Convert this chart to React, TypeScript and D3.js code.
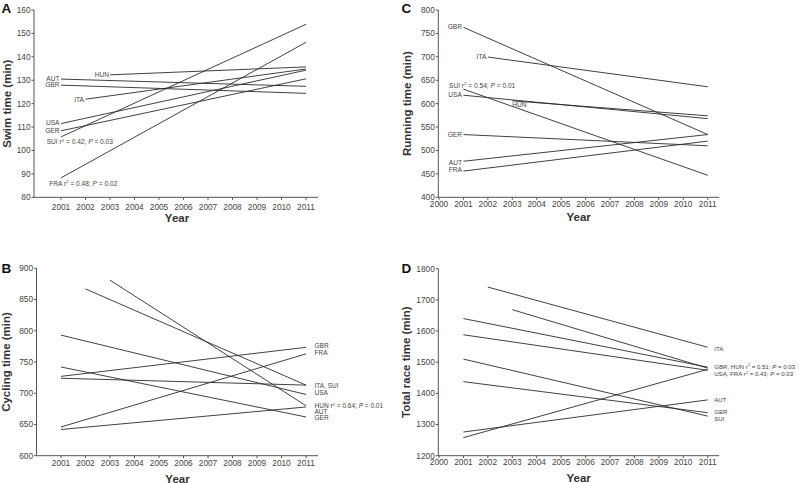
import React from "react";
import * as d3 from "d3";

// ---------- data ----------
const countries = ["AUT", "FRA", "GBR", "GER", "HUN", "ITA", "SUI", "USA"];
const firstYear = [2001, 2001, 2001, 2001, 2003, 2002, 2001, 2001];
const lastYear = 2011;

const swimFirst = [130.5, 88.3, 127.9, 108.4, 132.3, 121.9, 105.8, 111.5];
const swimLast = [127.4, 146.2, 124.4, 130.6, 135.7, 134.8, 153.9, 134.3];

const cycleFirst = [642, 646, 727, 742, 881, 867, 724, 793];
const cycleLast = [678, 763, 773.5, 662, 680, 713, 713, 698];

const runFirst = [477, 456, 763, 534, 606, 699.5, 631, 618];
const runLast = [534, 520, 534, 510, 574, 636, 447, 568];

const totalFirst = [1276, 1258, 1640, 1437.5, 1668.5, 1741, 1510, 1588];
const totalLast = [1379, 1477, 1484, 1338, 1481, 1548, 1327, 1474];

const yearTicksAB = [2001, 2002, 2003, 2004, 2005, 2006, 2007, 2008, 2009, 2010, 2011];
const yearTicksCD = [2000, 2001, 2002, 2003, 2004, 2005, 2006, 2007, 2008, 2009, 2010, 2011];
const swimTicks = [80, 90, 100, 110, 120, 130, 140, 150, 160];
const cycleTicks = [600, 650, 700, 750, 800, 850, 900];
const runTicks = [400, 450, 500, 550, 600, 650, 700, 750, 800];
const totalTicks = [1200, 1300, 1400, 1500, 1600, 1700, 1800];

type Lab = { c: string; name: string; r2?: string; p?: string };
const swimLabels: Lab[] = [
  { c: "AUT", name: "AUT" },
  { c: "GBR", name: "GBR" },
  { c: "ITA", name: "ITA" },
  { c: "HUN", name: "HUN" },
  { c: "USA", name: "USA" },
  { c: "GER", name: "GER" },
  { c: "SUI", name: "SUI", r2: "0.42", p: "0.03" },
  { c: "FRA", name: "FRA", r2: "0.48", p: "0.02" },
];
const runLabels: Lab[] = [
  { c: "GBR", name: "GBR" },
  { c: "ITA", name: "ITA" },
  { c: "SUI", name: "SUI", r2: "0.54", p: "0.01" },
  { c: "USA", name: "USA" },
  { c: "HUN", name: "HUN" },
  { c: "GER", name: "GER" },
  { c: "AUT", name: "AUT" },
  { c: "FRA", name: "FRA" },
];
const cycleLabels: Lab[] = [
  { c: "GBR", name: "GBR" },
  { c: "FRA", name: "FRA" },
  { c: "ITA", name: "ITA, SUI" },
  { c: "USA", name: "USA" },
  { c: "HUN", name: "HUN", r2: "0.64", p: "0.01" },
  { c: "AUT", name: "AUT" },
  { c: "GER", name: "GER" },
];
const totalLabels: Lab[] = [
  { c: "ITA", name: "ITA" },
  { c: "GBR", name: "GBR, HUN", r2: "0.51", p: "0.03" },
  { c: "USA", name: "USA, FRA", r2: "0.43", p: "0.03" },
  { c: "AUT", name: "AUT" },
  { c: "GER", name: "GER" },
  { c: "SUI", name: "SUI" },
];

// ---------- layout ----------
const FONT = "'Liberation Sans', Arial, Helvetica, sans-serif";
const LINE = "#2b2b2b";
const AXIS = "#555";
const TXT = "#444";

type LabLayout = { dx: number; dy: number; anchor: "start" | "end"; side: "first" | "last" };

interface PanelCfg {
  letter: string;
  title: string;
  xDomain: [number, number];
  xRange: [number, number];
  yDomain: [number, number];
  yRange: [number, number];
  axisX: number;
  axisRight: number;
  xTicks: number[];
  yTicks: number[];
  tickLabelY: number;
  yearY: number;
  yearX: number;
  titleX: number;
  letterX: number;
  letterY: number;
  first: number[];
  last: number[];
  labels: Lab[];
  labFont: number;
  labLayout: Record<string, LabLayout>;
}

const panels: PanelCfg[] = [
  {
    letter: "A",
    title: "Swim time (min)",
    xDomain: [2001, 2011],
    xRange: [61, 306],
    yDomain: [80, 160],
    yRange: [197.3, 10],
    axisX: 34,
    axisRight: 318,
    xTicks: yearTicksAB,
    yTicks: swimTicks,
    tickLabelY: 210.3,
    yearY: 221.7,
    yearX: 177,
    titleX: 11,
    letterX: 1.5,
    letterY: 12.8,
    first: swimFirst,
    last: swimLast,
    labels: swimLabels,
    labFont: 6.6,
    labLayout: {
      AUT: { dx: -1.5, dy: 0, anchor: "end", side: "first" },
      GBR: { dx: -1.5, dy: 0, anchor: "end", side: "first" },
      ITA: { dx: -1.5, dy: 0, anchor: "end", side: "first" },
      HUN: { dx: -1, dy: 0, anchor: "end", side: "first" },
      USA: { dx: -1.5, dy: -1, anchor: "end", side: "first" },
      GER: { dx: -1.5, dy: 0, anchor: "end", side: "first" },
      SUI: { dx: -14.3, dy: 5, anchor: "start", side: "first" },
      FRA: { dx: -11.7, dy: 5.6, anchor: "start", side: "first" },
    },
  },
  {
    letter: "B",
    title: "Cycling time (min)",
    xDomain: [2001, 2011],
    xRange: [61, 306],
    yDomain: [600, 900],
    yRange: [455.7, 268.3],
    axisX: 36.5,
    axisRight: 318,
    xTicks: yearTicksAB,
    yTicks: cycleTicks,
    tickLabelY: 466,
    yearY: 482.5,
    yearX: 177.5,
    titleX: 10,
    letterX: 1.5,
    letterY: 273,
    first: cycleFirst,
    last: cycleLast,
    labels: cycleLabels,
    labFont: 6.5,
    labLayout: {
      GBR: { dx: 8.5, dy: -1.3, anchor: "start", side: "last" },
      FRA: { dx: 8.5, dy: -1.4, anchor: "start", side: "last" },
      ITA: { dx: 8.5, dy: 1, anchor: "start", side: "last" },
      USA: { dx: 8.5, dy: -1.3, anchor: "start", side: "last" },
      HUN: { dx: 8.5, dy: 0, anchor: "start", side: "last" },
      AUT: { dx: 8.5, dy: 5, anchor: "start", side: "last" },
      GER: { dx: 8.5, dy: 1, anchor: "start", side: "last" },
    },
  },
  {
    letter: "C",
    title: "Running time (min)",
    xDomain: [2000, 2011],
    xRange: [439, 707.7],
    yDomain: [400, 800],
    yRange: [197.3, 10],
    axisX: 438.3,
    axisRight: 719.3,
    xTicks: yearTicksCD,
    yTicks: runTicks,
    tickLabelY: 207,
    yearY: 220.7,
    yearX: 578.7,
    titleX: 410.5,
    letterX: 401.5,
    letterY: 12.8,
    first: runFirst,
    last: runLast,
    labels: runLabels,
    labFont: 6.6,
    labLayout: {
      GBR: { dx: -1.5, dy: -1, anchor: "end", side: "first" },
      ITA: { dx: -1.5, dy: 0, anchor: "end", side: "first" },
      SUI: { dx: -14.4, dy: -3.7, anchor: "start", side: "first" },
      USA: { dx: -1.5, dy: -0.7, anchor: "end", side: "first" },
      HUN: { dx: 0, dy: 3.5, anchor: "start", side: "first" },
      GER: { dx: -1.5, dy: 0, anchor: "end", side: "first" },
      AUT: { dx: -1.5, dy: 1.3, anchor: "end", side: "first" },
      FRA: { dx: -1.5, dy: -1, anchor: "end", side: "first" },
    },
  },
  {
    letter: "D",
    title: "Total race time (min)",
    xDomain: [2000, 2011],
    xRange: [439, 707.7],
    yDomain: [1200, 1800],
    yRange: [455.7, 268.7],
    axisX: 438.3,
    axisRight: 719.3,
    xTicks: yearTicksCD,
    yTicks: totalTicks,
    tickLabelY: 465.3,
    yearY: 482.3,
    yearX: 578.7,
    titleX: 410,
    letterX: 401.5,
    letterY: 273,
    first: totalFirst,
    last: totalLast,
    labels: totalLabels,
    labFont: 6.1,
    labLayout: {
      ITA: { dx: 6.5, dy: 1.3, anchor: "start", side: "last" },
      GBR: { dx: 6.5, dy: -0.5, anchor: "start", side: "last" },
      USA: { dx: 6.5, dy: 3.8, anchor: "start", side: "last" },
      AUT: { dx: 6.5, dy: 0, anchor: "start", side: "last" },
      GER: { dx: 6.5, dy: -0.6, anchor: "start", side: "last" },
      SUI: { dx: 6.5, dy: 2.4, anchor: "start", side: "last" },
    },
  },
];

function LabelText({
  lab,
  x,
  y,
  anchor,
  size,
}: {
  lab: Lab;
  x: number;
  y: number;
  anchor: string;
  size: number;
}) {
  return (
    <text x={x} y={y} dy="0.35em" textAnchor={anchor} fontSize={size} fill={TXT} fontFamily={FONT}>
      {lab.name}
      {lab.r2 !== undefined && (
        <>
          <tspan> r</tspan>
          <tspan fontSize={size * 0.66} dy={-2.5}>
            2
          </tspan>
          <tspan dy={2.5}>{` = ${lab.r2}; `}</tspan>
          <tspan fontStyle="italic">P</tspan>
          <tspan>{` = ${lab.p}`}</tspan>
        </>
      )}
    </text>
  );
}

function Panel({ cfg }: { cfg: PanelCfg }) {
  const x = d3.scaleLinear().domain(cfg.xDomain).range(cfg.xRange);
  const y = d3.scaleLinear().domain(cfg.yDomain).range(cfg.yRange);
  const line = d3
    .line<[number, number]>()
    .x((d) => x(d[0]))
    .y((d) => y(d[1]));
  const yTop = cfg.yRange[1];
  const yBot = cfg.yRange[0];
  const yMid = (yTop + yBot) / 2;

  return (
    <g>
      <line x1={cfg.axisX} x2={cfg.axisX} y1={yTop} y2={yBot} stroke={AXIS} strokeWidth={1} />
      <line x1={cfg.axisX} x2={cfg.axisRight} y1={yBot} y2={yBot} stroke={AXIS} strokeWidth={1} />
      {cfg.yTicks.map((t) => (
        <g key={"y" + t}>
          <line x1={cfg.axisX - 2.5} x2={cfg.axisX} y1={y(t)} y2={y(t)} stroke={AXIS} />
          <text
            x={cfg.axisX - 3.5}
            y={y(t)}
            dy="0.35em"
            textAnchor="end"
            fontSize={8.3}
            fill={TXT}
            fontFamily={FONT}
          >
            {t}
          </text>
        </g>
      ))}
      {cfg.xTicks.map((t) => (
        <g key={"x" + t}>
          <line x1={x(t)} x2={x(t)} y1={yBot} y2={yBot + 2.5} stroke={AXIS} />
          <text
            x={x(t)}
            y={cfg.tickLabelY}
            textAnchor="middle"
            fontSize={8.3}
            fill={TXT}
            fontFamily={FONT}
          >
            {t}
          </text>
        </g>
      ))}
      <text
        x={cfg.yearX}
        y={cfg.yearY}
        textAnchor="middle"
        fontSize={11.5}
        fontWeight="bold"
        fill="#333"
        fontFamily={FONT}
      >
        Year
      </text>
      <text
        transform={`translate(${cfg.titleX},${yMid}) rotate(-90)`}
        textAnchor="middle"
        fontSize={11.5}
        fontWeight="bold"
        fill="#333"
        fontFamily={FONT}
      >
        {cfg.title}
      </text>
      <text
        x={cfg.letterX}
        y={cfg.letterY}
        fontSize={13.5}
        fontWeight="bold"
        fill="#111"
        fontFamily={FONT}
      >
        {cfg.letter}
      </text>
      {countries.map((c, i) => (
        <path
          key={c}
          d={
            line([
              [firstYear[i], cfg.first[i]],
              [lastYear, cfg.last[i]],
            ]) as string
          }
          fill="none"
          stroke={LINE}
          strokeWidth={0.9}
        />
      ))}
      {cfg.labels.map((lab) => {
        const i = countries.indexOf(lab.c);
        const L = cfg.labLayout[lab.c];
        const px = L.side === "first" ? x(firstYear[i]) : x(lastYear);
        const py = L.side === "first" ? y(cfg.first[i]) : y(cfg.last[i]);
        return (
          <LabelText
            key={lab.name}
            lab={lab}
            x={px + L.dx}
            y={py + L.dy}
            anchor={L.anchor}
            size={cfg.labFont}
          />
        );
      })}
    </g>
  );
}

export default function App() {
  return (
    <svg width={799} height={483} style={{ position: "absolute", left: 0, top: 0, background: "#fff" }}>
      <rect width={799} height={483} fill="#fff" />
      {panels.map((p) => (
        <Panel key={p.letter} cfg={p} />
      ))}
    </svg>
  );
}
